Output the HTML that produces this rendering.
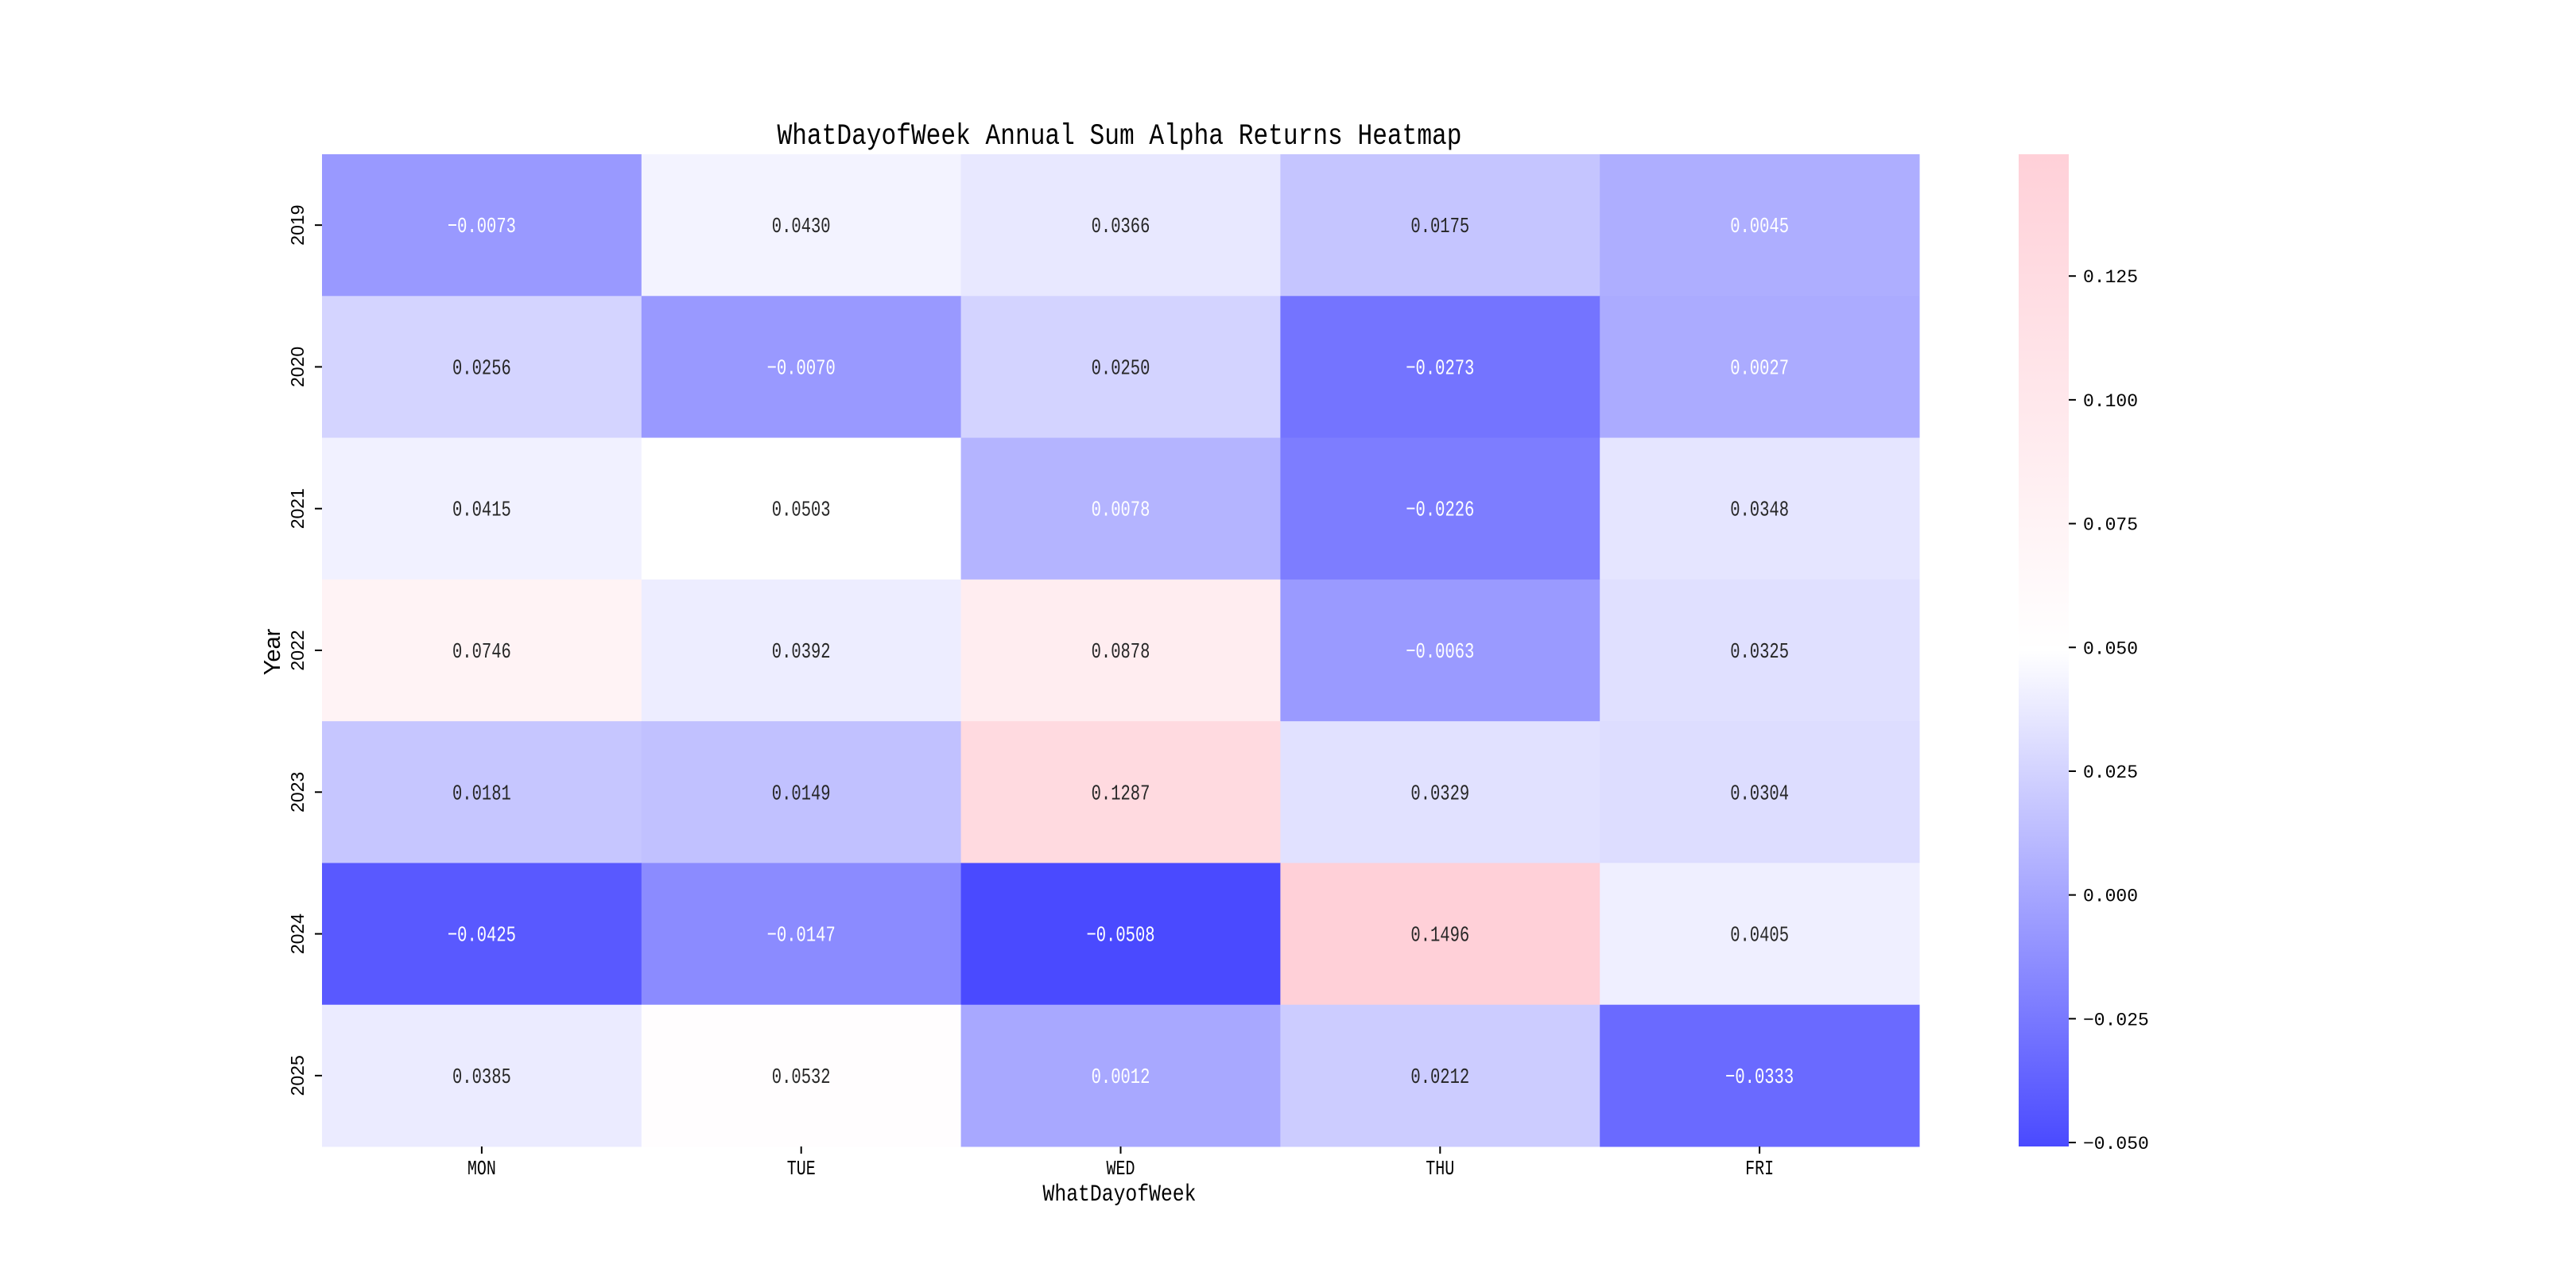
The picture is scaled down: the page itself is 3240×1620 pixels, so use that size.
<!DOCTYPE html>
<html><head><meta charset="utf-8"><style>html,body{margin:0;padding:0;background:#fff}svg{display:block}</style></head>
<body>
<svg id="chart" xmlns="http://www.w3.org/2000/svg" width="3240" height="1620" viewBox="0 0 3240 1620">
<rect width="3240" height="1620" fill="#fff"/>
<text x="1408" y="181" text-anchor="middle" font-family="Liberation Mono, monospace" font-size="37" textLength="861" lengthAdjust="spacingAndGlyphs">WhatDayofWeek Annual Sum Alpha Returns Heatmap</text>
<g id="cells"></g>
<g id="yticks"></g>
<g id="xticks"></g>
<text x="1408" y="1510" text-anchor="middle" font-family="Liberation Mono, monospace" font-size="30" textLength="193" lengthAdjust="spacingAndGlyphs">WhatDayofWeek</text>
<text transform="translate(352,820) rotate(-90)" text-anchor="middle" font-family="Liberation Sans, sans-serif" font-size="29">Year</text>
<defs><linearGradient id="cbgrad" x1="0" y1="1" x2="0" y2="0"><stop offset="0" stop-color="rgb(74,74,255)"/><stop offset="0.5" stop-color="#fff"/><stop offset="1" stop-color="rgb(255,208,216)"/></linearGradient></defs>
<rect x="2539" y="194" width="63" height="1248" fill="url(#cbgrad)"/>
<g id="cbticks"></g>
</svg>
<script>
const years = ['2019','2020','2021','2022','2023','2024','2025'];
const days = ['MON','TUE','WED','THU','FRI'];
const values = [
 [-0.0073, 0.0430, 0.0366, 0.0175, 0.0045],
 [0.0256, -0.0070, 0.0250, -0.0273, 0.0027],
 [0.0415, 0.0503, 0.0078, -0.0226, 0.0348],
 [0.0746, 0.0392, 0.0878, -0.0063, 0.0325],
 [0.0181, 0.0149, 0.1287, 0.0329, 0.0304],
 [-0.0425, -0.0147, -0.0508, 0.1496, 0.0405],
 [0.0385, 0.0532, 0.0012, 0.0212, -0.0333]
];
const cbTicks = [-0.050, -0.025, 0.000, 0.025, 0.050, 0.075, 0.100, 0.125];
const NS='http://www.w3.org/2000/svg';
const L=405, T=194, W=2009, H=1248;
const flat=values.flat();
const vmin=Math.min(...flat), vmax=Math.max(...flat), vc=(vmin+vmax)/2;
const cw=W/days.length, rh=H/years.length;
const xPos=i=>L+cw*(i+0.5), yPos=j=>T+rh*(j+0.5);
const cbY=v=>T+H-(v-vmin)/(vmax-vmin)*H;
function color(v){
  let a,b,t;
  if(v<=vc){a=[74,74,255];b=[255,255,255];t=(v-vmin)/(vc-vmin);}
  else{a=[255,255,255];b=[255,208,216];t=(v-vc)/(vmax-vc);}
  const c=a.map((x,k)=>Math.round(x+(b[k]-x)*t));
  return {s:`rgb(${c.join(',')})`,lum:(0.299*c[0]+0.587*c[1]+0.114*c[2])/255};
}
function mk(tag,attrs,parent,txt){const e=document.createElementNS(NS,tag);for(const k in attrs)e.setAttribute(k,attrs[k]);if(txt!==undefined)e.textContent=txt;parent.appendChild(e);return e;}
const cells=document.getElementById('cells');
values.forEach((row,j)=>row.forEach((v,i)=>{
  const c=color(v);
  const r=mk('rect',{x:L+cw*i,y:T+rh*j,width:cw+0.5,height:rh+0.5,fill:c.s},cells);
  
  
  const s=v.toFixed(4);
  const t=mk('text',{x:xPos(i),y:yPos(j)+9,'text-anchor':'middle','font-family':'Liberation Mono, monospace','font-size':'27',fill:c.lum<0.76?'#fff':'#262626',textLength:12.3*s.length,lengthAdjust:'spacingAndGlyphs'},cells,s.replace('-','\u2212'));
  
  
}));
const yt=document.getElementById('yticks');
years.forEach((y,j)=>{
  const l=mk('line',{x1:L-9,x2:L,y1:yPos(j),y2:yPos(j),stroke:'#000','stroke-width':2},yt);
  
  
  const t=mk('text',{transform:`translate(382,${yPos(j)}) rotate(-90)`,'text-anchor':'middle','font-family':'Liberation Sans, sans-serif','font-size':'23'},yt,y);
  
  
});
const xt=document.getElementById('xticks');
days.forEach((d,i)=>{
  const l=mk('line',{x1:xPos(i),x2:xPos(i),y1:T+H,y2:T+H+9,stroke:'#000','stroke-width':2},xt);
  
  
  const t=mk('text',{x:xPos(i),y:1477,'text-anchor':'middle','font-family':'Liberation Mono, monospace','font-size':'26',textLength:12*d.length,lengthAdjust:'spacingAndGlyphs'},xt,d);
  
  
});
const cb=document.getElementById('cbticks');
cbTicks.forEach(v=>{
  const y=cbY(v);
  const l=mk('line',{x1:2602,x2:2611,y1:y,y2:y,stroke:'#000','stroke-width':2},cb);
  
  
  const t=mk('text',{x:2620,y:y+8,'font-family':'Liberation Mono, monospace','font-size':'23'},cb,v.toFixed(3).replace('-','\u2212'));
  
  
});
</script>
</body></html>
